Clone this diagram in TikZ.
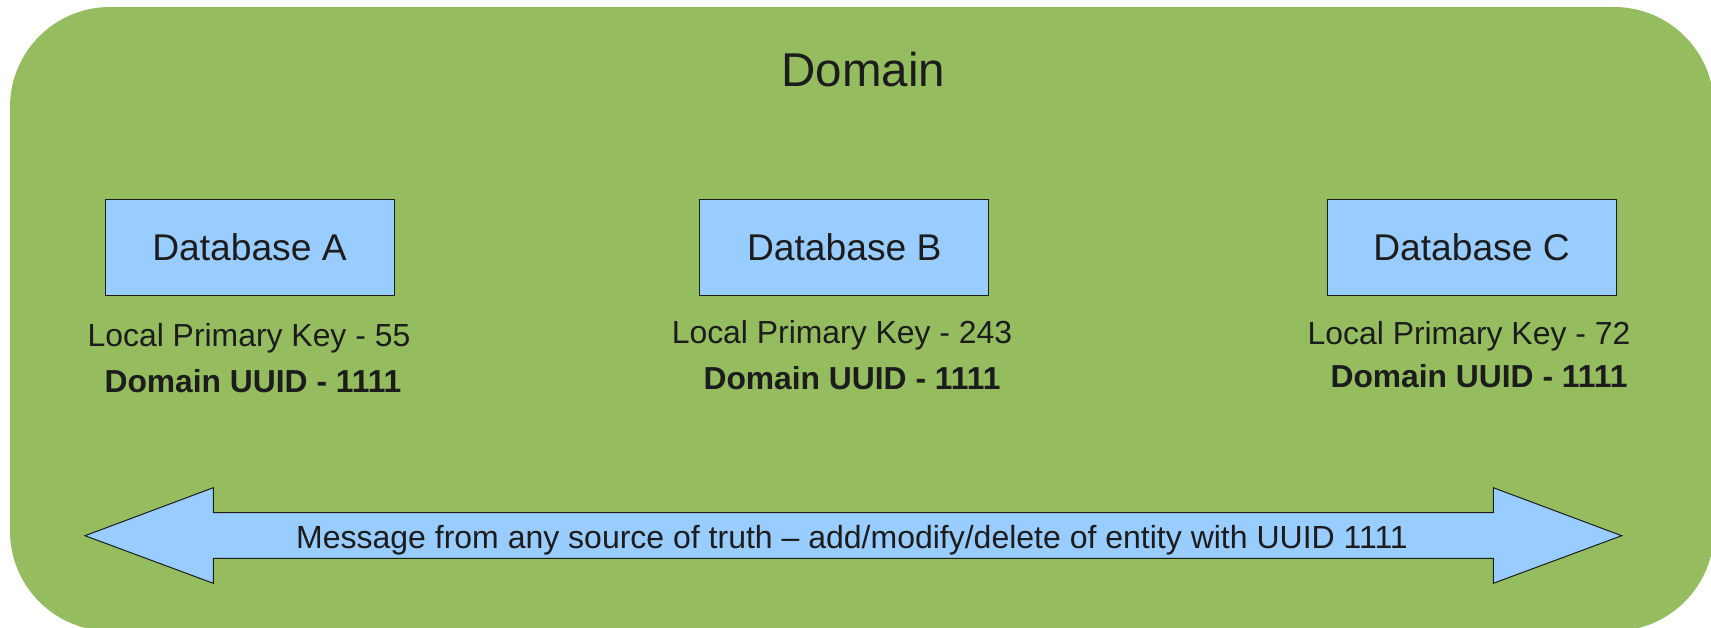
\documentclass[tikz,border=0pt]{standalone}
\usepackage{fontspec}
\setmainfont{Liberation Sans}
\definecolor{domaingreen}{HTML}{95BD5F}
\definecolor{dbblue}{HTML}{99CCFF}
\definecolor{ink}{HTML}{1C1C1C}
\begin{document}
\begin{tikzpicture}[x=1pt,y=-1pt,
  dbbox/.style={draw=ink, line width=1pt, fill=dbblue, minimum width=289pt,
    minimum height=96pt, inner sep=0pt, text=ink,
    font=\fontsize{37.2}{44}\selectfont},
  keytext/.style={anchor=base, inner sep=0pt, text=ink,
    font=\fontsize{31.9}{38}\selectfont},
  uuidtext/.style={anchor=base, inner sep=0pt, text=ink,
    font=\fontsize{31.8}{36}\selectfont\bfseries},
  msgarrow/.style={draw=ink, line width=1pt, fill=dbblue, line join=miter}]
\useasboundingbox (0,0) rectangle (1711,627);
\clip (0,0) rectangle (1711,627);

% the domain background
\fill[domaingreen, rounded corners=100pt] (10,7) rectangle (1714,631);
\node[anchor=base, inner sep=0pt, text=ink, font=\fontsize{47.5}{56}\selectfont]
  (title) at (863.5,86) {Domain};

% databases
\node[dbbox] (dbA) at (249.5,247) {Database A};
\node[dbbox] (dbB) at (844.3,247) {Database B};
\node[dbbox] (dbC) at (1471.5,247) {Database C};

\node[keytext] (keyA) at (249,346) {Local Primary Key - 55};
\node[keytext] (keyB) at (842,343) {Local Primary Key - 243};
\node[keytext] (keyC) at (1469,344) {Local Primary Key - 72};

\node[uuidtext] (uuidA) at (253,392) {Domain UUID - 1111};
\node[uuidtext] (uuidB) at (852,389) {Domain UUID - 1111};
\node[uuidtext] (uuidC) at (1479,387) {Domain UUID - 1111};

% two-headed message arrow
\coordinate (tipL) at (85,535.7);
\coordinate (tipR) at (1621.7,535.7);
\draw[msgarrow] (tipL) -- (213.3,487.7) -- (213.3,512.7) -- (1493.3,512.7)
  -- (1493.3,487.7) -- (tipR) -- (1493.3,583.3) -- (1493.3,558.3)
  -- (213.3,558.3) -- (213.3,583.3) -- cycle;
\node[anchor=base, inner sep=0pt, text=ink, font=\fontsize{32}{38}\selectfont]
  (msg) at (852,548.3) {Message from any source of truth – add/modify/delete of entity with UUID 1111};
\end{tikzpicture}
\end{document}
